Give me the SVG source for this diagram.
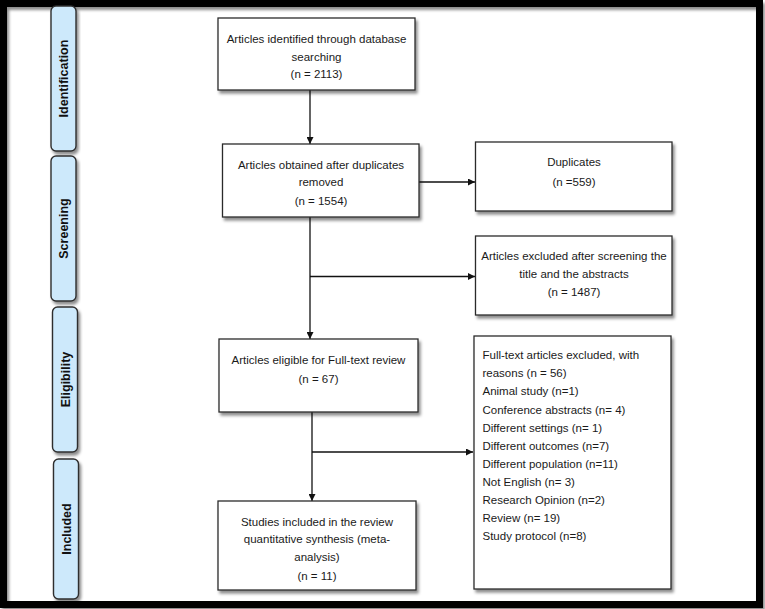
<svg xmlns="http://www.w3.org/2000/svg" width="765" height="609" viewBox="0 0 765 609">
<style>
.box{fill:#fff;stroke:#2b2b2b;stroke-width:1.3;filter:url(#sh)}
.pill{fill:#cde9fb;stroke:#2e2e2e;stroke-width:1.4;filter:url(#sh)}
.t{font-family:"Liberation Sans",Arial,sans-serif;font-size:11.5px;fill:#1a1a1a}
.c{text-anchor:middle}
.p{font-family:"Liberation Sans",Arial,sans-serif;font-size:12.5px;font-weight:bold;fill:#111;text-anchor:middle}
.ln{stroke:#111;stroke-width:1.3;fill:none}
</style>
<defs>
<filter id="sh" x="-10%" y="-10%" width="130%" height="130%">
<feDropShadow dx="2" dy="3" stdDeviation="1.6" flood-color="#000" flood-opacity="0.45"/>
</filter>
<marker id="ah" viewBox="0 0 10 10" refX="10" refY="5" markerWidth="7" markerHeight="7" markerUnits="userSpaceOnUse" orient="auto">
<path d="M0,0 L10,5 L0,10 z" fill="#111"/>
</marker>
</defs>
<rect width="765" height="609" fill="#fff"/>
<rect x="3.5" y="3.5" width="756" height="601" fill="none" stroke="#000" stroke-width="7" filter="url(#sh)"/>

<g id="phase-identification">
<rect class="pill" x="51" y="6" width="25" height="145" rx="5"/>
<text class="p" transform="translate(68,78.5) rotate(-90)">Identification</text>
</g>
<g id="phase-screening">
<rect class="pill" x="51" y="156" width="25" height="145" rx="5"/>
<text class="p" transform="translate(68,228.5) rotate(-90)">Screening</text>
</g>
<g id="phase-eligibility">
<rect class="pill" x="52.5" y="307" width="25" height="145" rx="5"/>
<text class="p" transform="translate(69.5,379.5) rotate(-90)">Eligibility</text>
</g>
<g id="phase-included">
<rect class="pill" x="53.5" y="459" width="25" height="140" rx="5"/>
<text class="p" transform="translate(70.5,529) rotate(-90)">Included</text>
</g>

<g id="connectors">
<line class="ln" x1="310" y1="90" x2="310" y2="144" marker-end="url(#ah)"/>
<line class="ln" x1="419" y1="182" x2="475" y2="182" marker-end="url(#ah)"/>
<line class="ln" x1="310" y1="217" x2="310" y2="339" marker-end="url(#ah)"/>
<line class="ln" x1="310" y1="276.5" x2="475" y2="276.5" marker-end="url(#ah)"/>
<line class="ln" x1="312" y1="412" x2="312" y2="501" marker-end="url(#ah)"/>
<line class="ln" x1="312" y1="452" x2="473" y2="452" marker-end="url(#ah)"/>
</g>

<g id="identified">
<rect class="box" x="218" y="18" width="197" height="72"/>
<text class="t c" x="316.5" y="43">Articles identified through database</text>
<text class="t c" x="316.5" y="61">searching</text>
<text class="t c" x="316.5" y="78">(n = 2113)</text>
</g>
<g id="deduplicated">
<rect class="box" x="222.5" y="144" width="196.5" height="73"/>
<text class="t c" x="321" y="169">Articles obtained after duplicates</text>
<text class="t c" x="321" y="186">removed</text>
<text class="t c" x="321" y="204.5">(n = 1554)</text>
</g>
<g id="duplicates">
<rect class="box" x="475.5" y="142" width="196.5" height="69"/>
<text class="t c" x="574" y="166">Duplicates</text>
<text class="t c" x="574" y="185.5">(n =559)</text>
</g>
<g id="excluded-title">
<rect class="box" x="475.5" y="236" width="196.5" height="79"/>
<text class="t c" x="574" y="260">Articles excluded after screening the</text>
<text class="t c" x="574" y="278">title and the abstracts</text>
<text class="t c" x="574" y="296">(n = 1487)</text>
</g>
<g id="eligible">
<rect class="box" x="219" y="339" width="199" height="73"/>
<text class="t c" x="318.5" y="364">Articles eligible for Full-text review</text>
<text class="t c" x="318.5" y="383">(n = 67)</text>
</g>
<g id="excluded-fulltext">
<rect class="box" x="474" y="336" width="197" height="253"/>
<text class="t" x="482.5" y="359">Full-text articles excluded, with</text>
<text class="t" x="482.5" y="377">reasons (n = 56)</text>
<text class="t" x="482.5" y="395">Animal study (n=1)</text>
<text class="t" x="482.5" y="413.5">Conference abstracts (n= 4)</text>
<text class="t" x="482.5" y="432">Different settings (n= 1)</text>
<text class="t" x="482.5" y="450">Different outcomes (n=7)</text>
<text class="t" x="482.5" y="468">Different population (n=11)</text>
<text class="t" x="482.5" y="486">Not English (n= 3)</text>
<text class="t" x="482.5" y="504">Research Opinion (n=2)</text>
<text class="t" x="482.5" y="521.5">Review (n= 19)</text>
<text class="t" x="482.5" y="540">Study protocol (n=8)</text>
</g>
<g id="included">
<rect class="box" x="218" y="501" width="198" height="89"/>
<text class="t c" x="317" y="525.5">Studies included in the review</text>
<text class="t c" x="317" y="543">quantitative synthesis (meta-</text>
<text class="t c" x="317" y="560.5">analysis)</text>
<text class="t c" x="317" y="580">(n = 11)</text>
</g>
</svg>
